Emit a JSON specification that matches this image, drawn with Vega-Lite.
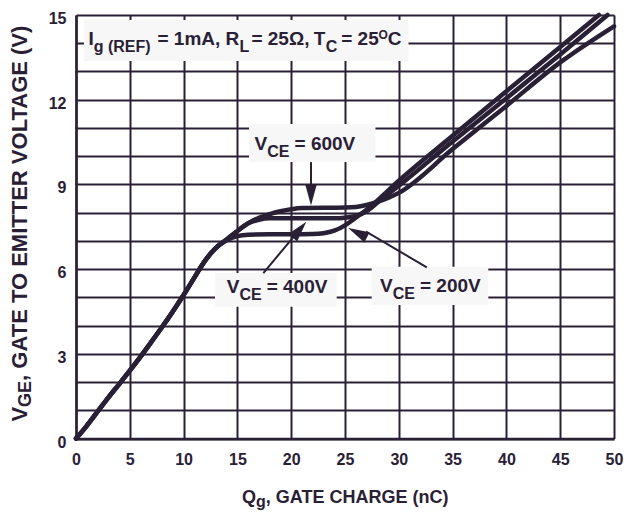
{
  "$schema": "https://vega.github.io/schema/vega-lite/v6.json",
  "width": 538,
  "height": 423.5,
  "autosize": {"type": "none"},
  "padding": {"left": 76, "top": 15, "right": 25, "bottom": 73.5},
  "background": "white",
  "config": {
    "font": "Liberation Sans",
    "view": {"stroke": null}
  },
  "datasets": {
    "curves": [
      {"s": "200V", "x": 0, "y": 0}, {"s": "200V", "x": 1, "y": 0.45}, {"s": "200V", "x": 2, "y": 0.95}, {"s": "200V", "x": 3, "y": 1.45}, {"s": "200V", "x": 4, "y": 1.92}, {"s": "200V", "x": 5, "y": 2.4}, {"s": "200V", "x": 6, "y": 2.9}, {"s": "200V", "x": 7, "y": 3.42}, {"s": "200V", "x": 8, "y": 3.95}, {"s": "200V", "x": 9, "y": 4.5}, {"s": "200V", "x": 10, "y": 5.08}, {"s": "200V", "x": 11, "y": 5.7}, {"s": "200V", "x": 12, "y": 6.3}, {"s": "200V", "x": 13, "y": 6.75}, {"s": "200V", "x": 14, "y": 7.02},
      {"s": "200V", "x": 15, "y": 7.17}, {"s": "200V", "x": 16, "y": 7.22}, {"s": "200V", "x": 18, "y": 7.23}, {"s": "200V", "x": 20, "y": 7.23}, {"s": "200V", "x": 22, "y": 7.24}, {"s": "200V", "x": 23, "y": 7.27}, {"s": "200V", "x": 24, "y": 7.36}, {"s": "200V", "x": 25, "y": 7.55}, {"s": "200V", "x": 26, "y": 7.82}, {"s": "200V", "x": 27, "y": 8.1}, {"s": "200V", "x": 28, "y": 8.42}, {"s": "200V", "x": 29, "y": 8.78}, {"s": "200V", "x": 30, "y": 9.13}, {"s": "200V", "x": 35, "y": 10.72}, {"s": "200V", "x": 40, "y": 12.3}, {"s": "200V", "x": 45, "y": 13.87}, {"s": "200V", "x": 48.6, "y": 15.0},
      {"s": "400V", "x": 0, "y": 0}, {"s": "400V", "x": 1, "y": 0.45}, {"s": "400V", "x": 2, "y": 0.95}, {"s": "400V", "x": 3, "y": 1.45}, {"s": "400V", "x": 4, "y": 1.92}, {"s": "400V", "x": 5, "y": 2.4}, {"s": "400V", "x": 6, "y": 2.9}, {"s": "400V", "x": 7, "y": 3.42}, {"s": "400V", "x": 8, "y": 3.95}, {"s": "400V", "x": 9, "y": 4.5}, {"s": "400V", "x": 10, "y": 5.08}, {"s": "400V", "x": 11, "y": 5.7}, {"s": "400V", "x": 12, "y": 6.3}, {"s": "400V", "x": 13, "y": 6.75}, {"s": "400V", "x": 14, "y": 7.05},
      {"s": "400V", "x": 15, "y": 7.35}, {"s": "400V", "x": 16, "y": 7.62}, {"s": "400V", "x": 17, "y": 7.75}, {"s": "400V", "x": 18, "y": 7.8}, {"s": "400V", "x": 20, "y": 7.8}, {"s": "400V", "x": 24, "y": 7.8}, {"s": "400V", "x": 25, "y": 7.82}, {"s": "400V", "x": 26, "y": 7.88}, {"s": "400V", "x": 27, "y": 8.05}, {"s": "400V", "x": 28, "y": 8.35}, {"s": "400V", "x": 29, "y": 8.65}, {"s": "400V", "x": 30, "y": 8.95}, {"s": "400V", "x": 35, "y": 10.52}, {"s": "400V", "x": 40, "y": 12.05}, {"s": "400V", "x": 45, "y": 13.6}, {"s": "400V", "x": 49.4, "y": 15.0},
      {"s": "600V", "x": 0, "y": 0}, {"s": "600V", "x": 1, "y": 0.45}, {"s": "600V", "x": 2, "y": 0.95}, {"s": "600V", "x": 3, "y": 1.45}, {"s": "600V", "x": 4, "y": 1.92}, {"s": "600V", "x": 5, "y": 2.4}, {"s": "600V", "x": 6, "y": 2.9}, {"s": "600V", "x": 7, "y": 3.42}, {"s": "600V", "x": 8, "y": 3.95}, {"s": "600V", "x": 9, "y": 4.5}, {"s": "600V", "x": 10, "y": 5.08}, {"s": "600V", "x": 11, "y": 5.7}, {"s": "600V", "x": 12, "y": 6.3}, {"s": "600V", "x": 13, "y": 6.75}, {"s": "600V", "x": 14, "y": 7.05},
      {"s": "600V", "x": 15, "y": 7.35}, {"s": "600V", "x": 16, "y": 7.62}, {"s": "600V", "x": 17, "y": 7.82}, {"s": "600V", "x": 18, "y": 7.95}, {"s": "600V", "x": 19, "y": 8.05}, {"s": "600V", "x": 20, "y": 8.12}, {"s": "600V", "x": 21, "y": 8.16}, {"s": "600V", "x": 25, "y": 8.18}, {"s": "600V", "x": 26, "y": 8.2}, {"s": "600V", "x": 27, "y": 8.27}, {"s": "600V", "x": 28, "y": 8.38}, {"s": "600V", "x": 29, "y": 8.52}, {"s": "600V", "x": 30, "y": 8.7}, {"s": "600V", "x": 35, "y": 10.25}, {"s": "600V", "x": 40, "y": 11.78}, {"s": "600V", "x": 45, "y": 13.32}, {"s": "600V", "x": 50, "y": 14.6}
    ],
    "boxes": [
      {"x": 0.74, "x2": 30.9, "y": 13.37, "y2": 14.82},
      {"x": 16.08, "x2": 27.83, "y": 9.79, "y2": 11.14},
      {"x": 12.92, "x2": 24.23, "y": 4.67, "y2": 5.86},
      {"x": 27.48, "x2": 38.32, "y": 4.73, "y2": 6.08}
    ],
    "arrows": [
      {"lbl": "600V", "x": 21.84, "y": 9.79, "x2": 21.84, "y2": 8.8},
      {"lbl": "400V", "x": 17.41, "y": 5.86, "x2": 20.92, "y2": 7.46},
      {"lbl": "200V", "x": 32.6, "y": 6.06, "x2": 26.96, "y2": 7.33}
    ],
    "heads": [
      {"lbl": "600V", "x": 21.84, "y": 8.25},
      {"lbl": "400V", "x": 21.4, "y": 7.68},
      {"lbl": "200V", "x": 25.3, "y": 7.46}
    ],
    "txt": [
      {"x": 1.16, "y": 13.95, "t": "I", "role": "main"},
      {"x": 1.65, "y": 13.95, "t": "g (REF)", "role": "sub"},
      {"x": 7.57, "y": 13.95, "t": "= 1mA, R", "role": "main"},
      {"x": 15.2, "y": 13.95, "t": "L", "role": "sub"},
      {"x": 16.3, "y": 13.95, "t": "= 25Ω,", "role": "main"},
      {"x": 22.1, "y": 13.95, "t": "T", "role": "main"},
      {"x": 23.2, "y": 13.95, "t": "C", "role": "sub"},
      {"x": 24.65, "y": 13.95, "t": "= 25", "role": "main"},
      {"x": 28.12, "y": 13.95, "t": "O", "role": "sup"},
      {"x": 28.98, "y": 13.95, "t": "C", "role": "main"},
      {"x": 16.59, "y": 10.22, "t": "V", "role": "main"},
      {"x": 17.77, "y": 10.22, "t": "CE", "role": "sub"},
      {"x": 20.31, "y": 10.22, "t": "= 600V", "role": "main"},
      {"x": 14.01, "y": 5.14, "t": "V", "role": "main"},
      {"x": 15.19, "y": 5.14, "t": "CE", "role": "sub"},
      {"x": 17.72, "y": 5.14, "t": "= 400V", "role": "main"},
      {"x": 28.25, "y": 5.2, "t": "V", "role": "main"},
      {"x": 29.43, "y": 5.2, "t": "CE", "role": "sub"},
      {"x": 31.97, "y": 5.2, "t": "= 200V", "role": "main"},
      {"x": 15.43, "y": -2.3, "t": "Q", "role": "xmain"},
      {"x": 16.73, "y": -2.3, "t": "g", "role": "xsub"},
      {"x": 17.64, "y": -2.3, "t": ", GATE CHARGE (nC)", "role": "xmain"},
      {"x": -4.6, "y": 0.6, "t": "V", "role": "ymain"},
      {"x": -4.6, "y": 1.12, "t": "GE", "role": "ysub"},
      {"x": -4.6, "y": 2.04, "t": ", GATE TO EMITTER VOLTAGE (V)", "role": "ymain"}
    ]
  },
  "encoding": {
    "x": {
      "field": "x", "type": "quantitative",
      "scale": {"domain": [0, 50], "nice": false, "zero": false},
      "axis": {
        "values": [0, 5, 10, 15, 20, 25, 30, 35, 40, 45, 50],
        "grid": true, "gridColor": "#2a2035", "gridWidth": 2, "gridOpacity": 1,
        "ticks": false, "domain": true, "domainColor": "#2a2035", "domainWidth": 2.5,
        "labelFontSize": 16, "labelFontWeight": "bold", "labelColor": "#2a2035",
        "labelFont": "Liberation Sans", "labelPadding": 13, "labelFlush": false, "labelOverlap": false,
        "title": null
      }
    },
    "y": {
      "field": "y", "type": "quantitative",
      "scale": {"domain": [0, 15], "nice": false, "zero": false},
      "axis": {
        "values": [0, 1, 2, 3, 4, 5, 6, 7, 8, 9, 10, 11, 12, 13, 14, 15],
        "labelExpr": "datum.value % 3 === 0 ? datum.label : ''",
        "grid": true, "gridColor": "#2a2035", "gridWidth": 2, "gridOpacity": 1,
        "ticks": false, "domain": true, "domainColor": "#2a2035", "domainWidth": 2.5,
        "labelFontSize": 16, "labelFontWeight": "bold", "labelColor": "#2a2035",
        "labelFont": "Liberation Sans", "labelPadding": 10, "labelOffset": 3.5, "labelBaseline": "middle",
        "labelFlush": false, "labelOverlap": false,
        "title": null
      }
    }
  },
  "layer": [
    {
      "data": {"name": "boxes"},
      "mark": {"type": "rect", "fill": "#f7f7f7", "stroke": null},
      "encoding": {"x2": {"field": "x2"}, "y2": {"field": "y2"}}
    },
    {
      "data": {"name": "curves"},
      "mark": {"type": "line", "color": "#2a2035", "strokeWidth": 4.5, "interpolate": "monotone", "strokeCap": "round", "strokeJoin": "round"},
      "encoding": {"detail": {"field": "s"}}
    },
    {
      "data": {"name": "arrows"},
      "mark": {"type": "rule", "color": "#2a2035", "strokeWidth": 2},
      "encoding": {"x2": {"field": "x2"}, "y2": {"field": "y2"}}
    },
    {
      "data": {"name": "heads"},
      "transform": [{"filter": "datum.lbl === '600V'"}],
      "mark": {"type": "point", "shape": "M0,0L-0.55,2L0.55,2Z", "filled": true, "size": 441, "angle": 180, "color": "#2a2035", "opacity": 1},
      "encoding": {}
    },
    {
      "data": {"name": "heads"},
      "transform": [{"filter": "datum.lbl === '400V'"}],
      "mark": {"type": "point", "shape": "M0,0L-0.55,2L0.55,2Z", "filled": true, "size": 441, "angle": 40, "color": "#2a2035", "opacity": 1},
      "encoding": {}
    },
    {
      "data": {"name": "heads"},
      "transform": [{"filter": "datum.lbl === '200V'"}],
      "mark": {"type": "point", "shape": "M0,0L-0.55,2L0.55,2Z", "filled": true, "size": 441, "angle": 296.7, "color": "#2a2035", "opacity": 1},
      "encoding": {}
    },
    {
      "data": {"name": "txt"},
      "transform": [{"filter": "datum.role === 'main'"}],
      "mark": {"type": "text", "align": "left", "baseline": "alphabetic", "fontSize": 19, "fontWeight": "bold", "color": "#2a2035"},
      "encoding": {"text": {"field": "t"}}
    },
    {
      "data": {"name": "txt"},
      "transform": [{"filter": "datum.role === 'sub'"}],
      "mark": {"type": "text", "align": "left", "baseline": "alphabetic", "fontSize": 16, "fontWeight": "bold", "dy": 7, "color": "#2a2035"},
      "encoding": {"text": {"field": "t"}}
    },
    {
      "data": {"name": "txt"},
      "transform": [{"filter": "datum.role === 'sup'"}],
      "mark": {"type": "text", "align": "left", "baseline": "alphabetic", "fontSize": 12, "fontWeight": "bold", "dy": -6, "color": "#2a2035"},
      "encoding": {"text": {"field": "t"}}
    },
    {
      "data": {"name": "txt"},
      "transform": [{"filter": "datum.role === 'xmain'"}],
      "mark": {"type": "text", "align": "left", "baseline": "alphabetic", "fontSize": 18, "fontWeight": "bold", "color": "#2a2035"},
      "encoding": {"text": {"field": "t"}}
    },
    {
      "data": {"name": "txt"},
      "transform": [{"filter": "datum.role === 'xsub'"}],
      "mark": {"type": "text", "align": "left", "baseline": "alphabetic", "fontSize": 16, "fontWeight": "bold", "dy": 4, "color": "#2a2035"},
      "encoding": {"text": {"field": "t"}}
    },
    {
      "data": {"name": "txt"},
      "transform": [{"filter": "datum.role === 'ymain'"}],
      "mark": {"type": "text", "align": "left", "baseline": "alphabetic", "fontSize": 22, "fontWeight": "bold", "angle": 270, "color": "#2a2035"},
      "encoding": {"text": {"field": "t"}}
    },
    {
      "data": {"name": "txt"},
      "transform": [{"filter": "datum.role === 'ysub'"}],
      "mark": {"type": "text", "align": "left", "baseline": "alphabetic", "fontSize": 18, "fontWeight": "bold", "angle": 270, "dy": 4, "color": "#2a2035"},
      "encoding": {"text": {"field": "t"}}
    }
  ]
}
